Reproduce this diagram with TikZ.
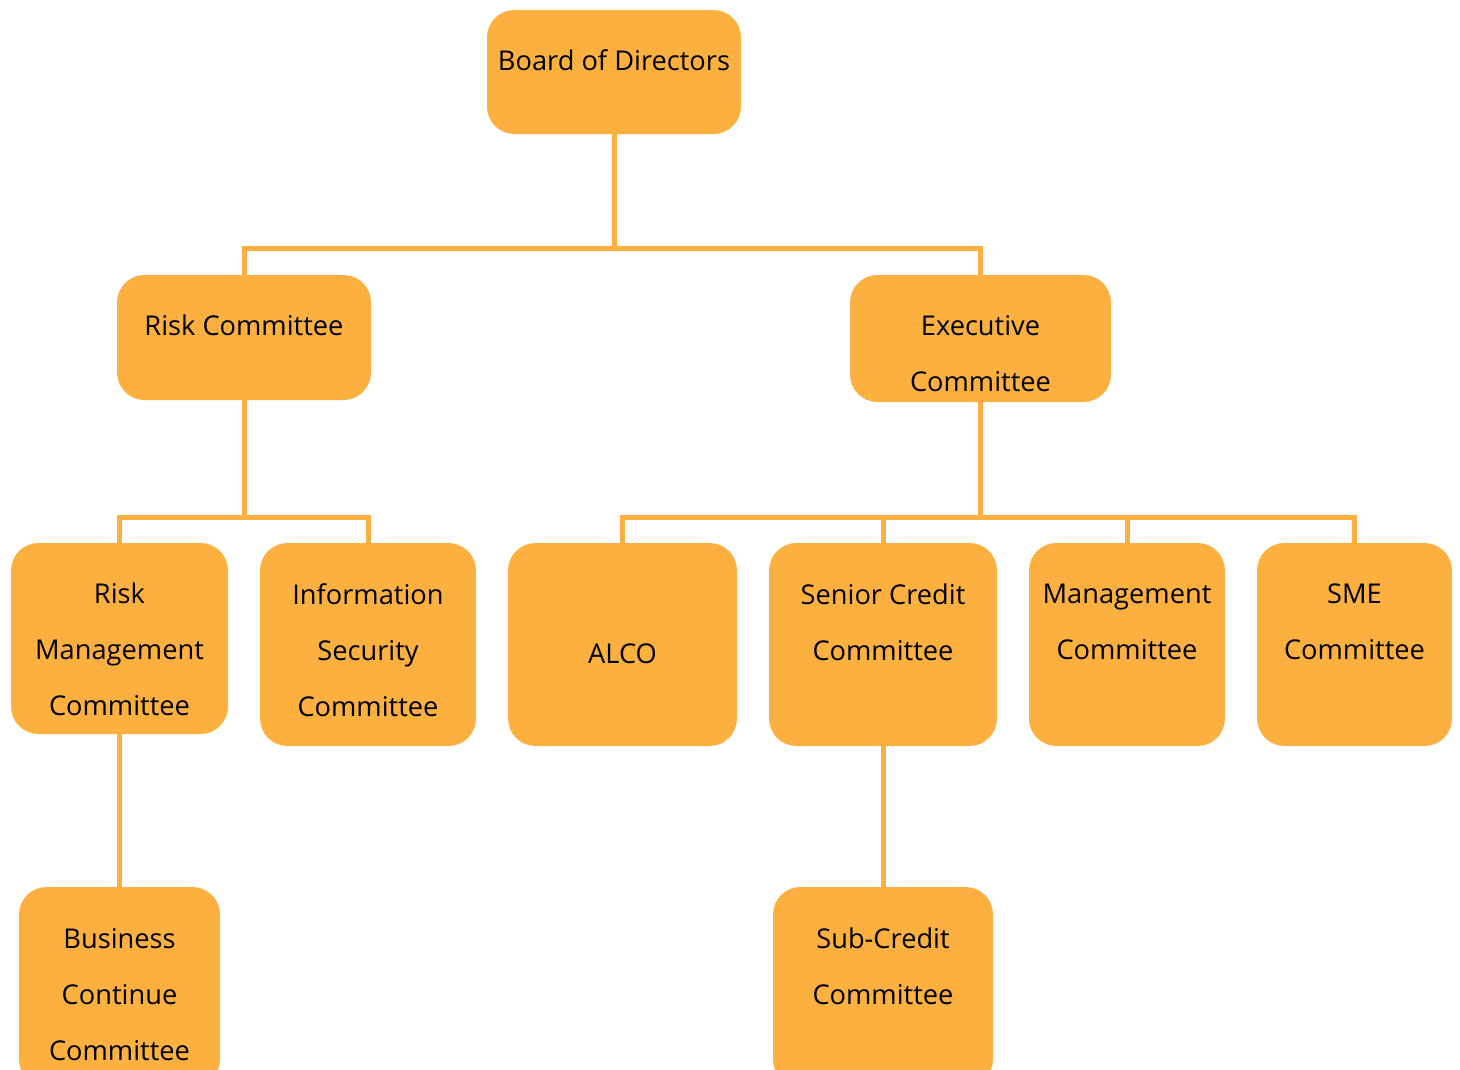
\documentclass[tikz,border=0pt]{standalone}
\usepackage{fontspec}
\setmainfont{Open Sans}

\definecolor{boxorange}{HTML}{FBB040}
\newdimen\pxlen
\pxlen=0.02cm
% width, height, first baseline, text
\newcommand{\boxtext}[4]{\parbox[c][#2\pxlen][t]{#1\pxlen}{\centering\rule{0pt}{#3\pxlen}#4}}

\begin{document}
\begin{tikzpicture}[x=0.02cm,y=-0.02cm]

      \useasboundingbox (0,0) rectangle (1460,1069);
      \clip (0,0) rectangle (1460,1069);

      \begin{scope}[every node/.style={fill=boxorange,rounded corners=0.55cm,inner sep=0pt,
          font=\fontsize{15.5}{32}\selectfont}]
        \node (board) at (614,72) {\boxtext{254}{124}{60}{Board of Directors}};
        \node (risk) at (244,337.5) {\boxtext{254}{125}{60}{Risk Committee}};
        \node (exec) at (980.5,338.5) {\boxtext{261}{127}{60}{Executive\\Committee}};
        \node (rmc) at (119.5,638.5) {\boxtext{217}{191}{60}{Risk\\Management\\Committee}};
        \node (isc) at (368,644.5) {\boxtext{216}{203}{61}{Information\\Security\\Committee}};
        \node (alco) at (622.5,644.5) {\boxtext{229}{203}{120}{ALCO}};
        \node (scc) at (883,644.5) {\boxtext{228}{203}{61}{Senior Credit\\Committee}};
        \node (mgmt) at (1127,644.5) {\boxtext{196}{203}{60}{Management\\Committee}};
        \node (sme) at (1354.5,644.5) {\boxtext{195}{203}{60}{SME\\Committee}};
        \node (bcc) at (119.5,987) {\boxtext{201}{200}{61}{Business\\Continue\\Committee}};
        \node (sub) at (883,987) {\boxtext{220}{200}{61}{Sub-Credit\\Committee}};
      \end{scope}

      \begin{scope}[boxorange,line width=0.1cm]
        \draw (board.south) -- ++(0,114) -| (risk.north);
        \draw (board.south) -- ++(0,114) -| (exec.north);
        \draw (risk.south) -- ++(0,117) -| (rmc.north);
        \draw (risk.south) -- ++(0,117) -| (isc.north);
        \draw (exec.south) -- ++(0,115) -| (alco.north);
        \draw (exec.south) -- ++(0,115) -| (scc.north);
        \draw (exec.south) -- ++(0,115) -| (mgmt.north);
        \draw (exec.south) -- ++(0,115) -| (sme.north);
        \draw (rmc.south) -- (bcc.north);
        \draw (scc.south) -- (sub.north);
      \end{scope}
    \end{tikzpicture}
\end{document}
